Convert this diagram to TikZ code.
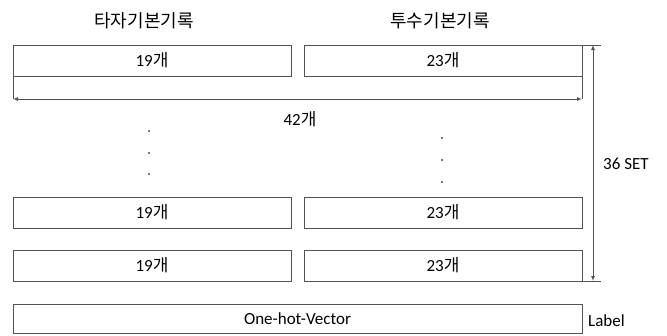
\documentclass[tikz,border=0pt]{standalone}
\usepackage{fontspec}
\setmainfont{Carlito}
\newfontfamily\kr{Noto Sans CJK KR}
\usetikzlibrary{arrows.meta}
\tikzset{
  ln/.style={draw=black!68, line width=1pt},
  rec/.style={ln, rectangle, inner sep=0pt, outer sep=0pt, minimum width=278pt, minimum height=31pt, font=\fontsize{17}{20}\selectfont, text=black},
  txt/.style={inner sep=0pt, font=\fontsize{17}{20}\selectfont, text=black},
  hdr/.style={inner sep=0pt, font=\fontsize{18}{21}\selectfont\kr, text=black},
  dim/.style={ln, {Latex[length=5pt,width=4pt]}-{Latex[length=5pt,width=4pt]}},
  dotm/.style={fill=black!70, draw=none}
}
\begin{document}
\begin{tikzpicture}[x=1pt,y=-1pt]
\useasboundingbox (0,0) rectangle (667,335);
% headers
\node[hdr] (h1) at (144,21) {타자기본기록};
\node[hdr] (h2) at (440,21) {투수기본기록};
% row 1
\node[rec] (a1) at (152,60.5) {19{\kr 개}};
\node[rec] (b1) at (443,60.5) {23{\kr 개}};
% row 2
\node[rec] (a2) at (152,212.5) {19{\kr 개}};
\node[rec] (b2) at (443,212.5) {23{\kr 개}};
% row 3
\node[rec] (a3) at (152,265.5) {19{\kr 개}};
\node[rec] (b3) at (443,265.5) {23{\kr 개}};
% one-hot
\node[rec, minimum width=569pt, minimum height=29pt] (oh) at (297.5,318.5) {One-hot-Vector};
\node[txt, anchor=west] (lab) at (588,321) {Label};
% 42 dimension
\coordinate (d1) at (13,99);
\coordinate (d2) at (582,99);
\draw[ln] (a1.south west) -- (d1);
\draw[ln] (b1.south east) -- (d2);
\draw[dim] (d1) -- (d2);
\node[txt] (n42) at (300,119) {42{\kr 개}};
% 36 SET dimension
\coordinate (t1) at (601,45);
\coordinate (t2) at (601,281);
\coordinate (v1) at (593,45);
\coordinate (v2) at (593,281);
\draw[ln] (b1.north east) -- (t1);
\draw[ln] (b3.south east) -- (t2);
\draw[dim] (v1) -- (v2);
\node[txt, anchor=west] (set) at (603,164) {36 SET};
% dots
\fill[dotm] (149,131) circle (1.2pt);
\fill[dotm] (149,153) circle (1.2pt);
\fill[dotm] (149,174) circle (1.2pt);
\fill[dotm] (442,138) circle (1.2pt);
\fill[dotm] (442,160) circle (1.2pt);
\fill[dotm] (442,182) circle (1.2pt);
\end{tikzpicture}
\end{document}
